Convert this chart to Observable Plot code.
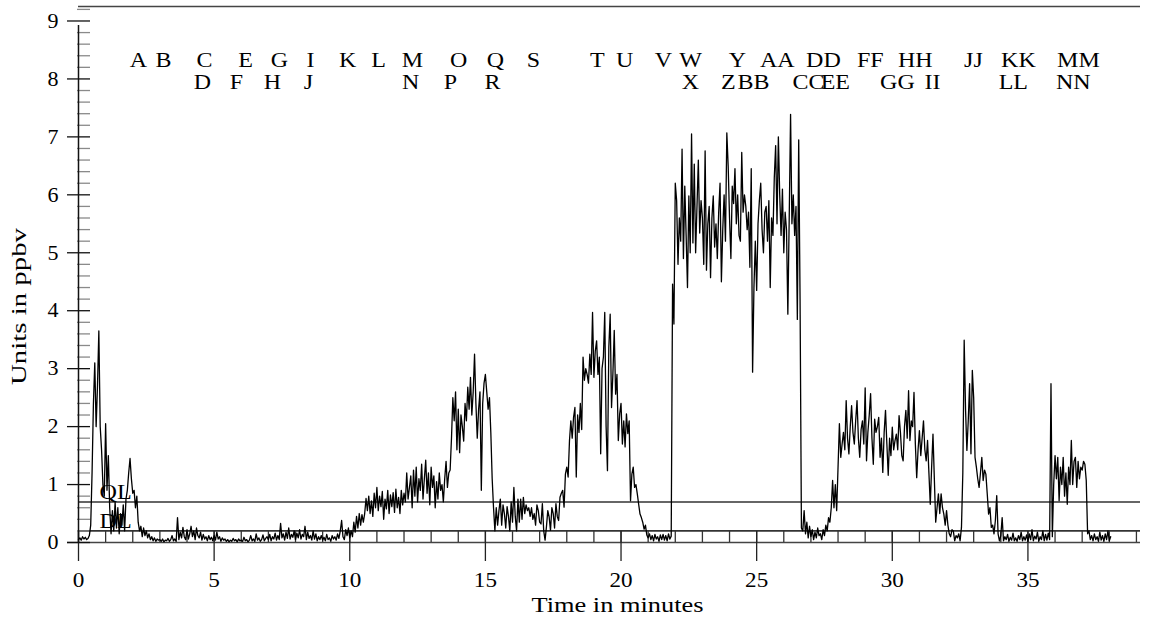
<!DOCTYPE html>
<html>
<head>
<meta charset="utf-8">
<script src="https://cdn.jsdelivr.net/npm/d3@7"></script>
<script src="https://cdn.jsdelivr.net/npm/@observablehq/plot@0.6"></script>
<style>
  html, body { margin: 0; padding: 0; background: #fff; }
  svg { display: block; }
</style>
</head>
<body>
<div id="chart"></div>
<script>
// ---- Data -------------------------------------------------------------
// Readings (ppbv), one row per minute, sampled every 0.05 min
const sampleStep = 0.05;
const ppbvByMinute = [
  [0.05,0.08,0.04,0.1,0.06,0.09,0.05,0.07,0.12,0.3,1.2,2.4,3.1,2.0,2.7,3.65,2.0,1.6,1.0,0.8],
  [2.05,0.9,1.5,0.6,0.15,0.55,0.2,0.7,0.25,0.6,0.15,0.5,0.3,0.65,0.2,0.75,0.9,1.2,1.45,1.1],
  [0.85,0.9,0.6,0.8,0.35,0.2,0.28,0.1,0.25,0.12,0.2,0.08,0.15,0.05,0.1,0.03,0.08,0.02,0.06,0.04],
  [0.05,0.02,0.06,0.01,0.04,0.03,0.07,0.02,0.05,0.12,0.03,0.06,0.02,0.43,0.05,0.18,0.08,0.26,0.1,0.05],
  [0.22,0.06,0.15,0.28,0.1,0.2,0.05,0.25,0.12,0.08,0.18,0.04,0.14,0.06,0.1,0.03,0.12,0.05,0.09,0.03],
  [0.12,0.04,0.18,0.06,0.1,0.02,0.08,0.04,0.06,0.02,0.05,0.01,0.04,0.02,0.07,0.03,0.05,0.01,0.06,0.03],
  [0.04,0.02,0.09,0.03,0.05,0.01,0.04,0.12,0.03,0.06,0.02,0.15,0.04,0.08,0.02,0.05,0.13,0.03,0.07,0.1],
  [0.05,0.14,0.03,0.1,0.06,0.16,0.04,0.12,0.05,0.33,0.08,0.15,0.04,0.18,0.07,0.25,0.06,0.14,0.09,0.2],
  [0.05,0.16,0.08,0.22,0.06,0.14,0.1,0.28,0.05,0.18,0.07,0.12,0.04,0.2,0.06,0.15,0.03,0.1,0.05,0.12],
  [0.04,0.09,0.03,0.14,0.05,0.08,0.02,0.12,0.06,0.1,0.04,0.15,0.07,0.2,0.38,0.1,0.05,0.22,0.12,0.25],
  [0.08,0.2,0.1,0.35,0.18,0.45,0.25,0.5,0.3,0.48,0.35,0.5,0.76,0.55,0.8,0.5,0.72,0.45,0.85,0.6],
  [0.95,0.55,0.8,0.62,0.88,0.4,0.75,0.58,0.9,0.5,0.82,0.62,0.86,0.52,0.92,0.6,0.78,0.5,0.9,0.65],
  [0.85,0.7,1.2,0.75,0.95,1.15,0.6,1.25,0.8,1.3,0.7,1.1,0.9,1.35,0.75,1.1,1.42,0.85,1.2,0.65],
  [1.3,0.95,1.15,0.6,1.05,0.75,1.2,0.9,1.0,0.7,1.1,1.4,0.95,1.2,1.25,1.8,2.5,2.1,2.6,1.6],
  [2.3,1.55,2.2,2.0,1.75,2.4,2.1,2.68,2.3,2.85,2.2,2.6,3.25,2.4,1.8,2.3,2.6,0.9,2.4,2.75],
  [2.9,2.6,2.3,2.5,1.9,1.1,0.6,0.2,0.6,0.3,0.55,0.75,0.3,0.65,0.5,0.25,0.62,0.45,0.2,0.7],
  [0.35,0.95,0.45,0.2,0.75,0.35,0.75,0.4,0.78,0.5,0.65,0.55,0.6,0.45,0.6,0.4,0.5,0.3,0.65,0.55],
  [0.35,0.32,0.67,0.2,0.04,0.27,0.55,0.44,0.21,0.6,0.5,0.25,0.67,0.45,0.38,0.78,0.85,0.9,0.61,1.18],
  [1.3,1.13,1.76,2.1,1.8,2.16,2.33,1.13,2.2,1.9,2.4,1.95,3.2,2.8,3.0,2.9,2.75,3.25,2.9,3.97],
  [2.85,3.3,3.48,2.9,3.2,1.53,3.0,3.2,3.97,2.0,1.24,3.37,3.94,2.33,2.91,3.66,2.56,2.9,1.76,2.22],
  [2.4,1.7,2.1,1.65,2.22,1.88,2.1,0.72,1.18,1.3,0.95,1.0,0.84,0.66,0.49,0.43,0.35,0.23,0.3,0.13],
  [0.08,0.15,0.05,0.12,0.03,0.14,0.06,0.1,0.02,0.13,0.05,0.14,0.04,0.12,0.03,0.15,0.06,0.11,4.46,3.77],
  [6.2,5.9,4.8,5.6,5.2,6.79,4.9,6.15,5.3,4.4,5.98,5.0,7.05,5.17,6.53,5.0,5.8,6.6,5.34,5.9],
  [5.6,4.8,6.76,4.7,5.5,5.8,4.57,5.6,5.98,5.1,5.5,4.9,5.7,6.2,4.5,5.4,6.0,5.2,7.07,6.5],
  [5.6,4.9,6.15,5.85,6.45,5.5,6.0,5.3,5.2,6.73,5.7,6.0,5.8,5.4,5.7,4.75,6.45,2.94,4.4,5.2],
  [4.35,5.5,5.9,6.2,5.4,5.0,5.7,5.8,5.2,5.9,4.4,5.6,5.3,6.3,6.85,5.5,7.0,6.0,5.3,6.1],
  [5.0,5.7,5.4,3.94,5.6,7.39,5.5,6.0,5.3,5.8,3.85,6.95,4.2,0.25,0.2,0.55,0.15,0.35,0.08,0.28],
  [0.1,0.22,0.05,0.18,0.08,0.25,0.12,0.15,0.05,0.22,0.12,0.3,0.2,0.43,0.35,0.6,1.07,0.6,1.0,0.55],
  [1.3,2.05,1.47,1.7,1.9,1.6,2.45,1.8,1.53,2.0,2.36,1.9,1.7,2.1,2.45,1.8,1.47,1.95,2.1,1.7],
  [2.67,1.41,1.9,2.2,2.57,1.8,1.35,2.13,1.9,2.0,2.16,1.47,1.8,1.21,1.9,2.28,1.7,1.16,1.8,1.5],
  [1.99,1.6,1.76,1.87,1.6,2.19,1.9,1.5,1.41,2.0,2.28,1.8,2.62,1.76,2.1,2.0,2.59,1.7,1.12,1.6],
  [1.93,1.5,1.8,2.1,1.6,1.41,1.76,1.2,0.66,1.3,1.87,1.1,0.35,0.6,0.84,0.5,0.84,0.6,0.49,0.3],
  [0.55,0.3,0.15,0.1,0.22,0.2,0.03,0.12,0.08,0.15,0.03,0.26,1.2,3.49,2.3,1.59,2.1,2.74,1.53,2.97],
  [2.5,1.47,1.3,1.1,0.95,1.2,1.47,1.07,1.25,1.18,0.84,0.49,0.6,0.26,0.3,0.15,0.38,0.81,0.15,0.03],
  [0.12,0.43,0.03,0.1,0.05,0.14,0.02,0.09,0.04,0.16,0.03,0.08,0.02,0.12,0.05,0.18,0.03,0.1,0.04,0.13],
  [0.02,0.15,0.05,0.22,0.03,0.11,0.06,0.18,0.02,0.1,0.05,0.2,0.03,0.14,0.04,0.16,0.05,2.74,0.1,1.0],
  [1.5,1.1,1.47,0.72,1.3,1.0,1.47,0.8,1.2,0.66,1.3,1.0,1.76,1.0,1.4,1.47,0.95,1.4,1.1,1.3],
  [1.25,1.4,1.35,1.07,0.15,0.2,0.05,0.12,0.03,0.15,0.05,0.1,0.02,0.18,0.04,0.12,0.02,0.15,0.05,0.2],
  [0.03,0.1]
];

// Detection / quantitation limits
const limitNames = ["QL", "DL"];
const limitValues = [0.7, 0.2];

// Event labels (upper row / lower row) and their times in minutes
const upperLabels = ["A","B","C","E","G","I","K","L","M","O","Q","S","T","U","V","W","Y","AA","DD","FF","HH","JJ","KK","MM"];
const upperTimes  = [2.21,3.13,4.64,6.16,7.41,8.55,9.92,11.06,12.31,14.01,15.37,16.77,19.13,20.13,21.56,22.56,24.29,25.76,27.46,29.19,30.85,32.99,34.65,36.86];
const lowerLabels = ["D","F","H","J","N","P","R","X","Z","BB","CC","EE","GG","II","LL","NN"];
const lowerTimes  = [4.57,5.82,7.15,8.48,12.24,13.71,15.26,22.56,23.96,24.88,26.91,27.9,30.19,31.48,34.46,36.67];

// Axis ticks
const xTickLabels = [0, 5, 10, 15, 20, 25, 30, 35];
const yTickLabels = [0, 1, 2, 3, 4, 5, 6, 7, 8, 9];
const xTitle = "Time in minutes";
const yTitle = "Units in ppbv";

// ---- Build tables -----------------------------------------------------
const trace = ppbvByMinute.flat().map((v, i) => ({t: +(i * sampleStep).toFixed(2), v}));
const limits = limitNames.map((name, i) => ({name, value: limitValues[i]}));
const upper = upperLabels.map((label, i) => ({label, t: upperTimes[i]}));
const lower = lowerLabels.map((label, i) => ({label, t: lowerTimes[i]}));
const xMinor = d3.range(0, 40);
const yMinor = d3.range(1, 47).map(k => +(k * 0.2).toFixed(1)).filter(v => Math.abs(v - Math.round(v)) > 1e-6);

const font = "'Liberation Serif', 'Times New Roman', serif";

const chart = Plot.plot({
  width: 1151,
  height: 618,
  marginLeft: 78,
  marginRight: 11,
  marginTop: 6,
  marginBottom: 76,
  x: {domain: [0, 39.15]},
  y: {domain: [0, 9.25]},
  style: {fontFamily: font, background: "#fff", color: "#000", overflow: "visible"},
  marks: [
    Plot.ruleY([9.25], {stroke: "#444", strokeWidth: 1.3}),
    Plot.ruleY(limits, {y: "value", stroke: "#333", strokeWidth: 1.6}),
    Plot.ruleY([0], {stroke: "#444", strokeWidth: 1.5, insetLeft: -11}),
    Plot.ruleX(xMinor, {y1: 0, y2: 0.2, stroke: "#333", strokeWidth: 1.3}),
    Plot.ruleX(xTickLabels, {y1: 0, y2: 0, insetTop: -11, insetBottom: -19, stroke: "#222", strokeWidth: 1.3}),
    Plot.ruleY(yMinor, {x1: 0, x2: 0, insetLeft: -1, insetRight: -12, stroke: "#8a8a8a", strokeWidth: 1.3}),
    Plot.ruleY(yTickLabels, {x1: 0, x2: 0, insetLeft: -11, insetRight: -12, stroke: "#111", strokeWidth: 1.3}),
    Plot.ruleX([0], {y1: 0, y2: 9.25, insetBottom: -19, stroke: "#111", strokeWidth: 1.5}),
    Plot.axisX({ticks: xTickLabels, tickSize: 0, tickPadding: 30, fontSize: 21, tickFormat: d => String(d), label: null}),
    Plot.axisY({ticks: yTickLabels, tickSize: 0, tickPadding: 20, fontSize: 21, tickFormat: d => String(d), label: null}),
    Plot.line(trace, {x: "t", y: "v", stroke: "#000", strokeWidth: 1.3}),
    Plot.text(limits, {y: "value", text: "name", frameAnchor: "left", dx: 21, dy: -3, textAnchor: "start", lineAnchor: "bottom", fontSize: 21, fill: "#000"}),
    Plot.text(upper, {x: "t", text: "label", frameAnchor: "top", dy: 54, lineAnchor: "middle", fontSize: 20, fill: "#000"}),
    Plot.text(lower, {x: "t", text: "label", frameAnchor: "top", dy: 76, lineAnchor: "middle", fontSize: 20, fill: "#000"}),
    Plot.text([xTitle], {frameAnchor: "bottom", dx: 8, dy: 62.5, textAnchor: "middle", lineAnchor: "middle", fontSize: 22, fill: "#000"}),
    Plot.text([yTitle], {frameAnchor: "left", dx: -60, dy: 32, rotate: -90, textAnchor: "middle", lineAnchor: "middle", fontSize: 22, fill: "#000"})
  ]
});

document.getElementById("chart").appendChild(chart);

// Widen glyphs to match the reference's broad serif lettering
function stretch(nodes, factor, fixedLength) {
  nodes.forEach(el => {
    const len = el.getComputedTextLength();
    if (!(len > 0)) return;
    el.setAttribute("textLength", (fixedLength || len * factor).toFixed(1));
    el.setAttribute("lengthAdjust", "spacingAndGlyphs");
  });
}
const textGroups = chart.querySelectorAll('g[aria-label="text"]');
if (textGroups.length >= 5) {
  stretch(textGroups[0].querySelectorAll("text"), 1.15);
  stretch(textGroups[1].querySelectorAll("text"), 1.2);
  stretch(textGroups[2].querySelectorAll("text"), 1.2);
  stretch(textGroups[3].querySelectorAll("text"), 1, 172);
  stretch(textGroups[4].querySelectorAll("text"), 1, 157);
}
stretch(chart.querySelectorAll('g[aria-label="x-axis tick label"] text'), 1.1);
stretch(chart.querySelectorAll('g[aria-label="y-axis tick label"] text'), 1.05);
</script>
</body>
</html>
